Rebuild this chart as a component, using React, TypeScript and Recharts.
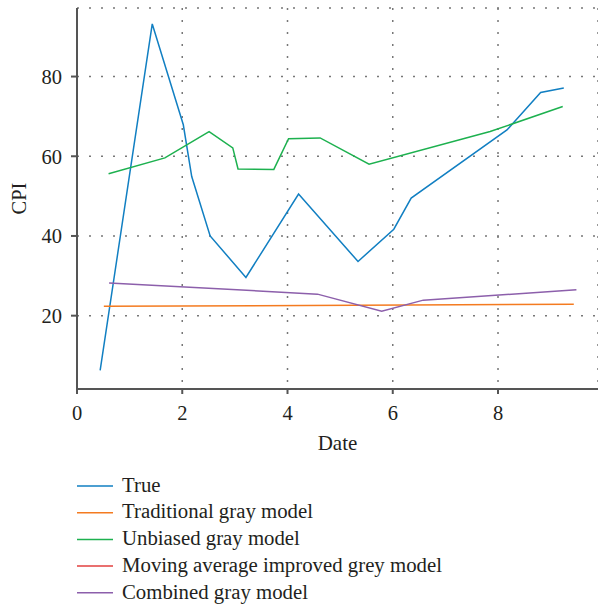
import React from 'react';
import { LineChart, Line, XAxis, YAxis, CartesianGrid } from 'recharts';

const trueX = [0.44, 1.43, 2.02, 2.18, 2.53, 3.21, 4.21, 5.34, 6.02, 6.35, 8.17, 8.81, 9.25];
const trueY = [6.3, 93.2, 67.9, 54.9, 40.0, 29.6, 50.5, 33.6, 41.7, 49.5, 66.6, 76.0, 77.1];

const traditionalX = [0.51, 9.44];
const traditionalY = [22.35, 22.85];

const unbiasedX = [0.6, 1.67, 2.51, 2.96, 3.06, 3.74, 4.02, 4.62, 5.55, 7.85, 9.23];
const unbiasedY = [55.6, 59.6, 66.2, 62.1, 56.8, 56.7, 64.4, 64.6, 58.0, 66.2, 72.5];

const movingX: number[] = [];
const movingY: number[] = [];

const combinedX = [0.61, 4.57, 5.79, 6.58, 9.49];
const combinedY = [28.2, 25.4, 21.1, 23.9, 26.5];

const xTicks = [0, 2, 4, 6, 8];
const yTicks = [20, 40, 60, 80];

const toData = (xs: number[], ys: number[]) => xs.map((x, i) => ({ x, y: ys[i] }));

const series = [
  { name: 'True', color: '#117fc2', data: toData(trueX, trueY) },
  { name: 'Traditional gray model', color: '#f47b20', data: toData(traditionalX, traditionalY) },
  { name: 'Unbiased gray model', color: '#1db14f', data: toData(unbiasedX, unbiasedY) },
  { name: 'Moving average improved grey model', color: '#e2403f', data: toData(movingX, movingY) },
  { name: 'Combined gray model', color: '#8c5fab', data: toData(combinedX, combinedY) },
];

const FONT = '"Liberation Serif", "DejaVu Serif", serif';
const AXIS = '#555555';
const TEXT = '#231f20';

const YLabel = (props: any) => {
  const vb = props.viewBox || {};
  const cx = 19;
  const cy = (vb.y || 0) + (vb.height || 0) / 2;
  return (
    <text x={cx} y={cy} transform={`rotate(-90, ${cx}, ${cy})`} textAnchor="middle" dominantBaseline="central"
      fontFamily={FONT} fontSize={20.5} fill={TEXT}>CPI</text>
  );
};

export default function App() {
  return (
    <div style={{ position: 'absolute', left: 0, top: 0, width: 598, height: 605, background: '#fff', overflow: 'hidden' }}>
      <LineChart width={598} height={460} margin={{ top: 8, right: 0, left: 0, bottom: 0 }}>
        <CartesianGrid stroke="#777777" strokeWidth={1.5} strokeDasharray="2 10" horizontal vertical />
        <XAxis xAxisId="top" orientation="top" type="number" domain={[0, 9.9]} height={0} tick={false}
          tickLine={false} axisLine={{ stroke: AXIS, strokeWidth: 2 }} allowDataOverflow />
        <XAxis dataKey="x" type="number" domain={[0, 9.9]} ticks={xTicks} height={71} allowDataOverflow
          axisLine={{ stroke: AXIS, strokeWidth: 2 }} tickLine={{ stroke: AXIS, strokeWidth: 2 }} tickSize={5}
          tickMargin={11} tick={{ fontFamily: FONT, fontSize: 20.5, fill: TEXT }}
          label={{ value: 'Date', position: 'insideBottom', offset: 10, fontFamily: FONT, fontSize: 21, fill: TEXT }} />
        <YAxis type="number" domain={[1.6, 97.2]} ticks={yTicks} width={77} allowDataOverflow
          axisLine={{ stroke: AXIS, strokeWidth: 2 }} tickLine={{ stroke: AXIS, strokeWidth: 2 }} tickSize={6}
          tickMargin={9} tick={{ fontFamily: FONT, fontSize: 20.5, fill: TEXT }}
          label={<YLabel />} />
        {series.map((s) => (
          <Line key={s.name} data={s.data} dataKey="y" name={s.name} type="linear" stroke={s.color}
            strokeWidth={1.5} dot={false} isAnimationActive={false} />
        ))}
      </LineChart>
      <svg width={598} height={145} style={{ position: 'absolute', left: 0, top: 460 }}>
        {series.map((s, i) => {
          const base = 31.7 + i * 26.7;
          return (
            <g key={s.name}>
              <line x1={77} x2={113} y1={base - 5.7} y2={base - 5.7} stroke={s.color} strokeWidth={1.5} />
              <text x={122} y={base} fontFamily={FONT} fontSize={20.8} fill={TEXT}>{s.name}</text>
            </g>
          );
        })}
      </svg>
    </div>
  );
}
